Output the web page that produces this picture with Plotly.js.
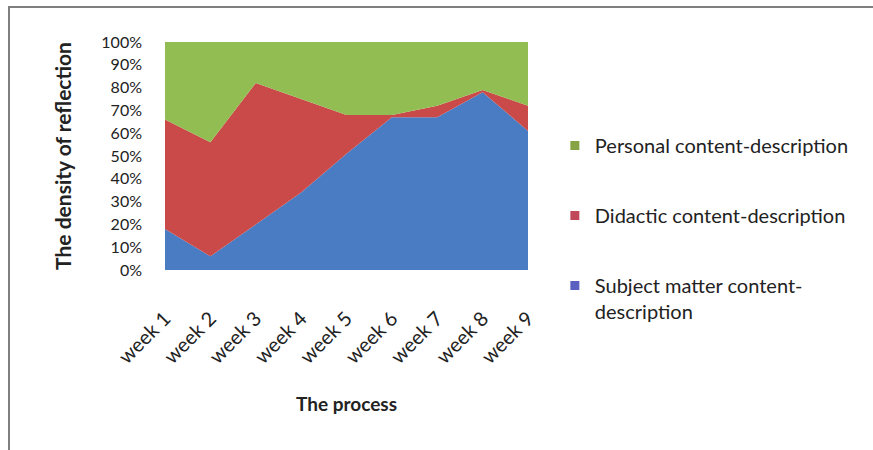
<!DOCTYPE html>
<html>
<head>
<meta charset="utf-8">
<script src="https://cdn.plot.ly/plotly-3.0.1.min.js"></script>
<style>
  html, body { margin: 0; padding: 0; background: #fff; }
  #wrap { position: relative; width: 873px; height: 450px; overflow: hidden; }
  #frame { position: absolute; left: 8px; top: 6px; width: 900px; height: 460px;
           border-left: 2px solid #7f7f7f; border-top: 2px solid #7f7f7f; box-sizing: border-box; }
  #chart { position: absolute; left: 0; top: 0; width: 873px; height: 450px; }
</style>
</head>
<body>
<div id="wrap">
  <div id="frame"></div>
  <div id="chart"></div>
</div>
<script>
const weeks = ["week 1", "week 2", "week 3", "week 4", "week 5", "week 6", "week 7", "week 8", "week 9"];
const subjectMatter = [18, 6, 20, 34, 51, 67, 67, 78, 61];
const didactic      = [48, 50, 62, 41, 17, 1, 5, 1, 11];
const personal      = [34, 44, 18, 25, 32, 32, 28, 21, 28];
const seriesNames = ["Subject matter content-<br>description", "Didactic content-description", "Personal content-description"];
const seriesColors = ["#4a7cc4", "#c94a48", "#92bd52"];
const legendColors = ["#5a5fc0", "#c0485a", "#86a445"];

const seriesValues = [subjectMatter, didactic, personal];
const areaTraces = seriesValues.map((vals, i) => ({
  type: "scatter",
  mode: "lines",
  x: weeks,
  y: vals,
  name: seriesNames[i],
  stackgroup: "one",
  groupnorm: i === 0 ? "percent" : undefined,
  line: { width: 0, color: seriesColors[i] },
  fillcolor: seriesColors[i],
  showlegend: false,
  hoverinfo: "skip"
}));
// legend entries (small square keys like the original), top to bottom: personal, didactic, subject
const legendTraces = [2, 1, 0].map((i) => ({
  type: "scatter",
  mode: "markers",
  x: [null],
  y: [null],
  name: seriesNames[i],
  legendgroup: "g" + i,
  marker: { symbol: "square", size: 9, color: legendColors[i] },
  hoverinfo: "skip"
}));

const font = "Lato, 'Open Sans', sans-serif";
const layout = {
  width: 873,
  height: 450,
  margin: { l: 165, r: 345, t: 42, b: 180 },
  paper_bgcolor: "rgba(0,0,0,0)",
  plot_bgcolor: "#ffffff",
  font: { family: font, color: "#222", size: 15 },
  showlegend: true,
  legend: {
    x: 1.074, xanchor: "left",
    y: 0.632, yanchor: "top",
    traceorder: "grouped",
    tracegroupgap: 41,
    valign: "top",
    font: { family: font, size: 20, color: "#222" },
    itemwidth: 30,
    bgcolor: "rgba(0,0,0,0)"
  },
  xaxis: {
    type: "category",
    range: [0, 8],
    showgrid: false,
    zeroline: false,
    showline: false,
    ticks: "",
    tickangle: -45,
    tickfont: { family: font, size: 20, color: "#222" },
    ticklabelstandoff: 32,
    title: { text: "<b>The process</b>", font: { family: font, size: 19, color: "#222" }, standoff: 30 }
  },
  yaxis: {
    range: [0, 100],
    dtick: 10,
    ticksuffix: "%",
    showgrid: false,
    zeroline: false,
    showline: false,
    ticks: "",
    tickfont: { family: font, size: 16, color: "#222" },
    ticklabelstandoff: 22,
    title: { text: "<b>The density of reflection</b>", font: { family: font, size: 21, color: "#222" }, standoff: 23 }
  }
};

Plotly.newPlot("chart", areaTraces.concat(legendTraces), layout, { displayModeBar: false, staticPlot: true });
</script>
</body>
</html>
